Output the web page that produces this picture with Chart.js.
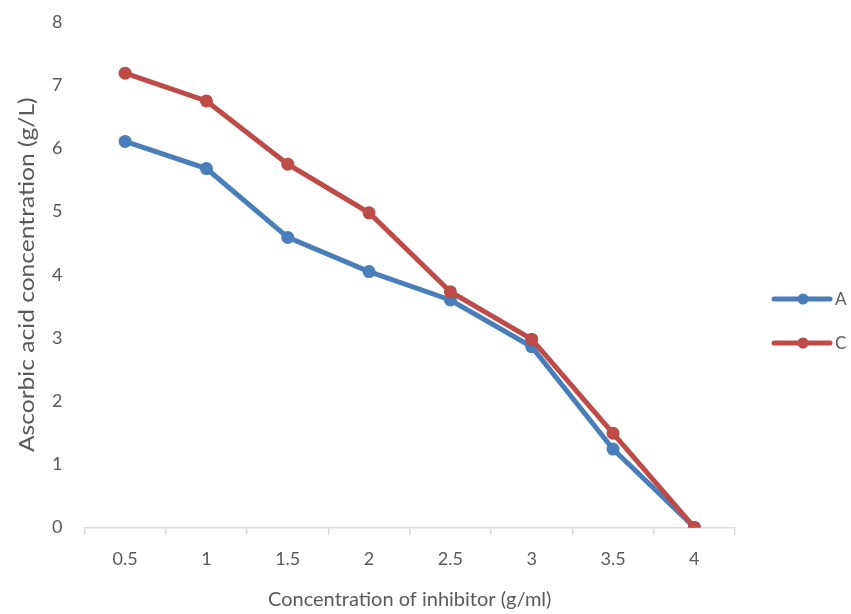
<!DOCTYPE html>
<html>
<head>
<meta charset="utf-8">
<script src="https://cdn.jsdelivr.net/npm/chart.js@4/dist/chart.umd.min.js"></script>
<style>
  html, body { margin: 0; padding: 0; background: #fff; }
  #wrap { width: 851px; height: 614px; position: relative; }
</style>
</head>
<body>
<div id="wrap"><canvas id="chart" width="851" height="614"></canvas></div>
<script>
// data
const categories = ['0.5', '1', '1.5', '2', '2.5', '3', '3.5', '4'];
const seriesA = [6.11, 5.68, 4.59, 4.05, 3.60, 2.86, 1.24, 0];
const seriesC = [7.19, 6.75, 5.75, 4.98, 3.73, 2.98, 1.49, 0];
const yTicks = [0, 1, 2, 3, 4, 5, 6, 7, 8];
const yTitle = 'Ascorbic acid concentration (g/L)';
const xTitle = 'Concentration of inhibitor (g/ml)';

const BLUE = '#4a7ebb';
const RED = '#be4b48';
const TEXT = '#595959';
const FONT = 'Lato, "Open Sans", sans-serif';

// legend drawn by hand: line with a dot, label on the right
const sideLegend = {
    id: 'sideLegend',
    afterDraw(chart) {
        const ctx = chart.ctx;
        const x0 = 774;
        const rows = [299, 343];
        chart.data.datasets.forEach((ds, i) => {
            const y = rows[i];
            ctx.save();
            ctx.strokeStyle = ds.borderColor;
            ctx.lineWidth = 5;
            ctx.lineCap = 'round';
            ctx.beginPath();
            ctx.moveTo(x0, y);
            ctx.lineTo(x0 + 56, y);
            ctx.stroke();
            ctx.fillStyle = ds.borderColor;
            ctx.beginPath();
            ctx.arc(x0 + 29, y, 5.5, 0, Math.PI * 2);
            ctx.fill();
            ctx.fillStyle = TEXT;
            ctx.font = '17px ' + FONT;
            ctx.textBaseline = 'middle';
            ctx.fillText(ds.label, x0 + 61, y + 1);
            ctx.restore();
        });
    }
};

// y axis title, a bit stretched along its length like the source image
const yAxisTitle = {
    id: 'yAxisTitle',
    afterDraw(chart) {
        const ctx = chart.ctx;
        const area = chart.chartArea;
        ctx.save();
        ctx.translate(27, (area.top + area.bottom) / 2);
        ctx.rotate(-Math.PI / 2);
        ctx.scale(1.17, 1);
        ctx.fillStyle = TEXT;
        ctx.font = '21px ' + FONT;
        ctx.textAlign = 'center';
        ctx.textBaseline = 'middle';
        ctx.fillText(yTitle, 0, 0);
        ctx.restore();
    }
};

new Chart(document.getElementById('chart'), {
    type: 'line',
    data: {
        labels: categories,
        datasets: [
            { label: 'A', data: seriesA, borderColor: BLUE, backgroundColor: BLUE, order: 2 },
            { label: 'C', data: seriesC, borderColor: RED, backgroundColor: RED, order: 1 }
        ]
    },
    options: {
        responsive: false,
        animation: false,
        layout: { padding: { left: 30, right: 116, top: 22, bottom: 0 } },
        elements: {
            line: { borderWidth: 5, tension: 0 },
            point: { radius: 6.5, borderWidth: 0 }
        },
        plugins: {
            legend: { display: false },
            tooltip: { enabled: false }
        },
        scales: {
            x: {
                offset: true,
                border: { display: true, color: '#d9d9d9', width: 1.5 },
                grid: { offset: true, drawOnChartArea: false, drawTicks: true, tickLength: 7, color: '#d9d9d9', lineWidth: 1.5 },
                ticks: { color: TEXT, font: { family: FONT, size: 18 }, padding: 14 },
                title: { display: true, text: xTitle, color: TEXT, font: { family: FONT, size: 20 }, padding: { top: 4, bottom: 2 } }
            },
            y: {
                min: 0,
                max: 8,
                afterBuildTicks: axis => { axis.ticks = yTicks.map(v => ({ value: v })); },
                // the tick padding should not push the plot down from the top
                afterFit: axis => { axis.paddingTop = 11; axis.paddingBottom = 11; },
                border: { display: false },
                grid: { display: false, drawTicks: false },
                ticks: { color: TEXT, font: { family: FONT, size: 18 }, padding: 22 }
            }
        }
    },
    plugins: [sideLegend, yAxisTitle]
});
</script>
</body>
</html>
